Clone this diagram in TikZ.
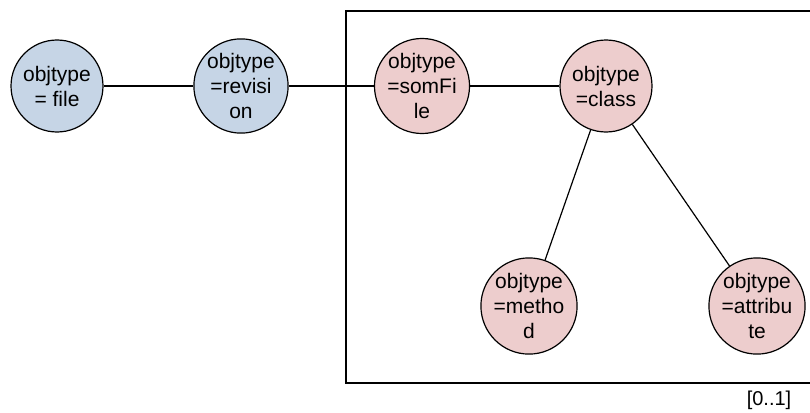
\documentclass[tikz,border=0pt]{standalone}
\usepackage{fontspec}
\setmainfont{Liberation Sans}
\definecolor{fileblue}{HTML}{C6D5E6}
\definecolor{codepink}{HTML}{EDCDCD}
\begin{document}
\begin{tikzpicture}[x=1pt,y=-1pt,
  objnode/.style={circle,draw=black,line width=1.2pt,minimum size=92pt,inner sep=0pt,
    align=center,font=\fontsize{21}{25}\selectfont},
  revnode/.style={objnode,fill=fileblue},
  srcnode/.style={objnode,fill=codepink},
  link/.style={line width=1.2pt}]
\useasboundingbox (0,0) rectangle (810,412);
% container holding the source-level objects
\draw[line width=1.2pt] (346,11) rectangle (840,383);
\node[font=\fontsize{20}{24}\selectfont] (mult) at (769,400) {[0..1]};
% nodes
\node[revnode] (file) at (57,86) {objtype\\= file};
\node[revnode] (rev) at (241,86) {objtype\\=revisi\\on};
\node[srcnode] (som) at (422,86) {objtype\\=somFi\\le};
\node[srcnode] (cls) at (606,86) {objtype\\=class};
\node[srcnode] (meth) at (529,306) {objtype\\=metho\\d};
\node[srcnode] (attr) at (757,306) {objtype\\=attribu\\te};
% connectors
\draw[link] (file) -- (rev);
\draw[link] (rev) -- (som);
\draw[link] (som) -- (cls);
\draw[link] (cls) -- (meth);
\draw[link] (cls) -- (attr);
\end{tikzpicture}
\end{document}
